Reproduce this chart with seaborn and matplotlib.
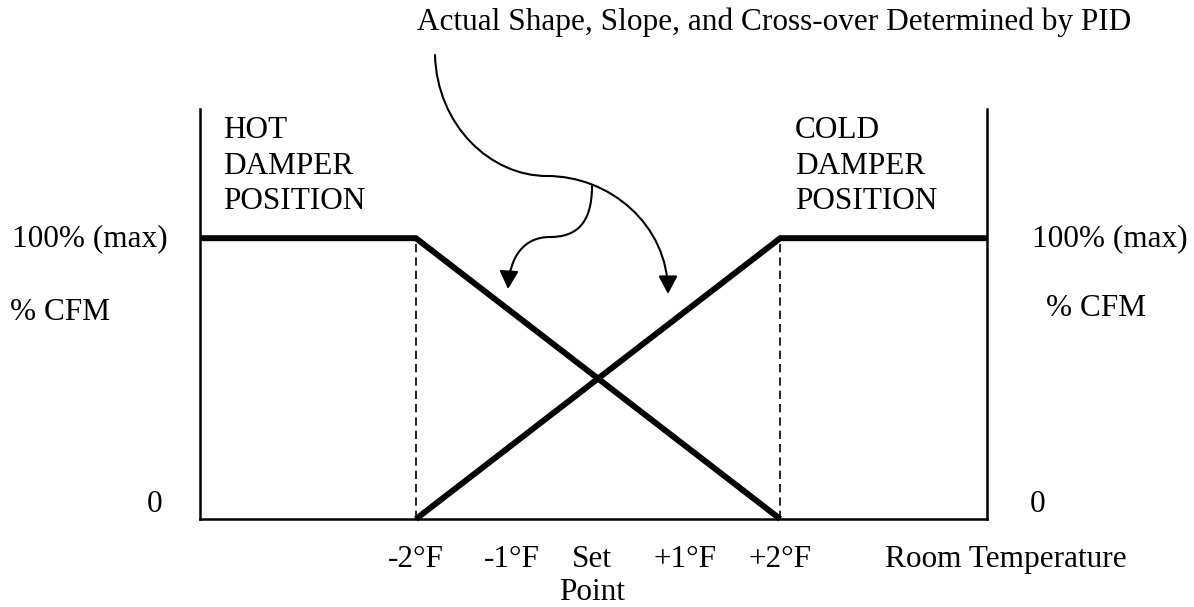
import matplotlib
matplotlib.use('Agg')
import matplotlib.pyplot as plt
import matplotlib.transforms as mtransforms
from matplotlib.patches import FancyArrowPatch, ArrowStyle
from matplotlib.path import Path
import seaborn as sns

# room temperature offset from set point (°F) vs damper position (% CFM)
hot_temp = [-4.37, -2, 2]
hot_cfm = [100, 100, 0]
cold_temp = [-2, 2, 4.27]
cold_cfm = [0, 100, 100]

band_edges = [-2, 2]
tick_temps = [-2, -0.95, -0.07, 0.96, 2]
tick_labels = ['-2°F', '-1°F', 'Set\nPoint', '+1°F', '+2°F']
cfm_top = 146

sns.set_style('white')
plt.rcParams['font.family'] = ['Liberation Serif', 'DejaVu Serif']
plt.rcParams['text.color'] = 'black'
plt.rcParams['xtick.color'] = 'black'
plt.rcParams['xtick.labelcolor'] = 'black'
FS = 22.5

W, H = 1194, 607
fig = plt.figure(figsize=(W / 100, H / 100), dpi=100)
ax = fig.add_axes([200 / W, 88 / H, 787 / W, 410 / H])

sns.lineplot(x=hot_temp, y=hot_cfm, ax=ax, color='black', linewidth=4.3, sort=False)
sns.lineplot(x=cold_temp, y=cold_cfm, ax=ax, color='black', linewidth=4.3, sort=False)
for ln in ax.lines:
    ln.set_clip_on(False)
    ln.set_solid_joinstyle('miter')
    ln.set_solid_capstyle('butt')
ax.vlines(band_edges, 0, 100, colors='black', linewidth=1.2,
          linestyles=(0, (5, 3)), clip_on=False)

ax.set_xlim(hot_temp[0], cold_temp[-1])
ax.set_ylim(0, cfm_top)
ax.set_xticks(tick_temps)
ax.set_xticklabels(tick_labels, fontsize=FS, linespacing=1.2, color='black')
ax.set_yticks([])
ax.tick_params(axis='x', direction='out', length=13, width=1.5, pad=5.5, colors='black')
ax.set_xlabel('')
ax.set_ylabel('')
ax.spines['top'].set_visible(False)
for s in ['left', 'right', 'bottom']:
    ax.spines[s].set_linewidth(1.8)
    ax.spines[s].set_color('black')

# pixel coordinates from the top-left corner, for the annotations
px = mtransforms.Affine2D().scale(1 / W, -1 / H).translate(0, 1) + fig.transFigure

fig.text(417, 22, 'Actual Shape, Slope, and Cross-over Determined by PID',
         transform=px, fontsize=FS, ha='left', va='center')
fig.text(223, 166, 'HOT\nDAMPER\nPOSITION', transform=px, fontsize=FS,
         ha='left', va='center', linespacing=1.3)
fig.text(795, 166, 'COLD\nDAMPER\nPOSITION', transform=px, fontsize=FS,
         ha='left', va='center', linespacing=1.3)
fig.text(12, 239, '100% (max)', transform=px, fontsize=FS, ha='left', va='center')
fig.text(10, 313, '% CFM', transform=px, fontsize=FS, ha='left', va='center')
fig.text(155, 504, '0', transform=px, fontsize=FS, ha='center', va='center')
fig.text(1032, 239, '100% (max)', transform=px, fontsize=FS, ha='left', va='center')
fig.text(1046, 309, '% CFM', transform=px, fontsize=FS, ha='left', va='center')
fig.text(1038, 504, '0', transform=px, fontsize=FS, ha='center', va='center')
fig.text(885, 559, 'Room Temperature', transform=px, fontsize=FS, ha='left', va='center')

curve = [Path.MOVETO] + [Path.CURVE4] * 6
big_arrow = [(435, 55), (437, 125), (490, 176), (547, 176),
             (610, 176), (668, 225), (668, 294)]
small_arrow = [(592, 186), (592, 225), (575, 237), (550, 237),
               (525, 237), (510, 255), (508, 289)]
head = ArrowStyle('-|>', head_length=11, head_width=5.8)
for pts in [big_arrow, small_arrow]:
    arr = FancyArrowPatch(path=Path(pts, curve), arrowstyle=head, transform=px,
                          color='black', linewidth=1.5, mutation_scale=1)
    fig.add_artist(arr)

fig.savefig('out.png', dpi=100)
